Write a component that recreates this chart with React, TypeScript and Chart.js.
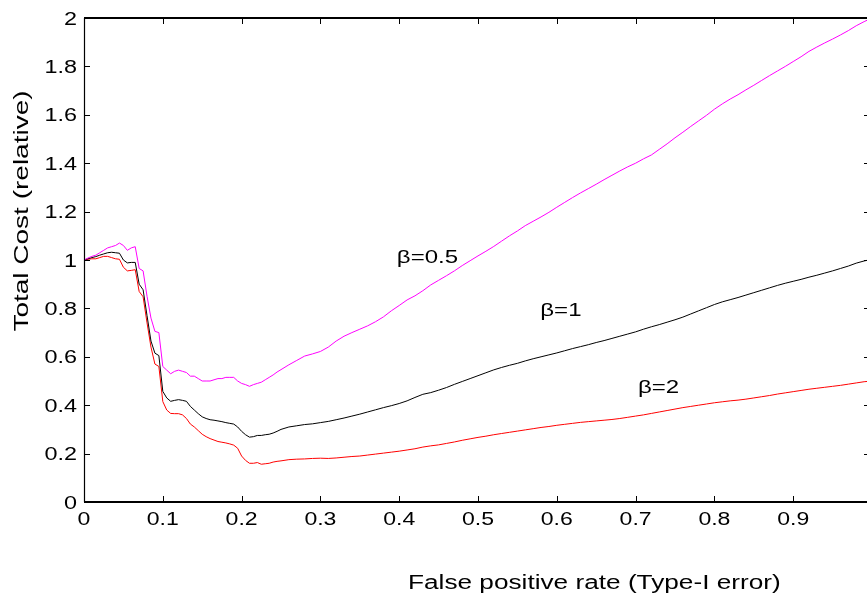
import { useEffect, useRef } from "react";
import { Chart, registerables } from "chart.js";

Chart.register(...registerables);

// False positive rate (x)
const FPR = [
  0, 0.005, 0.01, 0.015, 0.02, 0.025, 0.03, 0.035, 0.04, 0.045,
  0.05, 0.055, 0.06, 0.065, 0.07, 0.075, 0.08, 0.085, 0.09, 0.095,
  0.1, 0.105, 0.11, 0.115, 0.12, 0.125, 0.13, 0.135, 0.14, 0.145,
  0.15, 0.155, 0.16, 0.165, 0.17, 0.175, 0.18, 0.185, 0.19, 0.195,
  0.2, 0.205, 0.21, 0.215, 0.22, 0.225, 0.23, 0.235, 0.24, 0.245,
  0.25,
  0.26, 0.27, 0.28, 0.29, 0.3, 0.31, 0.32, 0.33, 0.34, 0.35,
  0.36, 0.37, 0.38, 0.39, 0.4, 0.41, 0.42, 0.43, 0.44, 0.45,
  0.46, 0.47, 0.48, 0.49, 0.5, 0.51, 0.52, 0.53, 0.54, 0.55,
  0.56, 0.57, 0.58, 0.59, 0.6, 0.61, 0.62, 0.63, 0.64, 0.65,
  0.66, 0.67, 0.68, 0.69, 0.7, 0.71, 0.72, 0.73, 0.74, 0.75,
  0.76, 0.77, 0.78, 0.79, 0.8, 0.81, 0.82, 0.83, 0.84, 0.85,
  0.86, 0.87, 0.88, 0.89, 0.9, 0.91, 0.92, 0.93, 0.94, 0.95,
  0.96, 0.97, 0.98, 0.99, 1.0,
];

// Total cost, beta = 0.5 (magenta)
const COST_BETA_05 = [
  1.0, 1.008, 1.015, 1.02, 1.03, 1.04, 1.05, 1.055, 1.06, 1.07,
  1.06, 1.04, 1.05, 1.055, 0.965, 0.955, 0.85, 0.76, 0.705, 0.7,
  0.56, 0.545, 0.53, 0.54, 0.545, 0.54, 0.535, 0.52, 0.52, 0.51,
  0.5, 0.5, 0.5, 0.505, 0.51, 0.51, 0.515, 0.515, 0.515, 0.5,
  0.49, 0.485, 0.478, 0.485, 0.49, 0.495, 0.505, 0.515, 0.525, 0.537,
  0.547,
  0.567, 0.585, 0.603, 0.612, 0.622, 0.64, 0.665, 0.685, 0.7, 0.714,
  0.728, 0.745, 0.765, 0.79, 0.812, 0.835, 0.852, 0.873, 0.897, 0.916,
  0.935, 0.955, 0.977, 0.997, 1.017, 1.036, 1.056, 1.078, 1.1, 1.12,
  1.142, 1.16, 1.178, 1.197, 1.218, 1.238, 1.258, 1.277, 1.295, 1.313,
  1.332, 1.35, 1.368, 1.385, 1.4, 1.418, 1.434, 1.457, 1.48, 1.505,
  1.528, 1.552, 1.575, 1.598, 1.623, 1.645, 1.665, 1.683, 1.703, 1.722,
  1.742, 1.762, 1.781, 1.8, 1.82, 1.84, 1.862, 1.88, 1.897, 1.913,
  1.93, 1.948, 1.968, 1.985, 2.0,
];

// Total cost, beta = 1 (black)
const COST_BETA_1 = [
  1.0, 1.005, 1.01, 1.014, 1.02, 1.025, 1.03, 1.032, 1.03, 1.028,
  1.0, 0.988, 0.99, 0.99, 0.9, 0.877, 0.77, 0.665, 0.615, 0.605,
  0.457, 0.43, 0.416, 0.42, 0.423, 0.42, 0.416, 0.395, 0.38, 0.365,
  0.352, 0.345, 0.34, 0.338, 0.335, 0.332, 0.328, 0.325, 0.322, 0.31,
  0.292, 0.278, 0.268, 0.27, 0.275, 0.275, 0.278, 0.28, 0.285, 0.292,
  0.3,
  0.31, 0.315, 0.32, 0.323, 0.328, 0.333, 0.34, 0.347, 0.355, 0.363,
  0.372, 0.381, 0.39, 0.398, 0.407, 0.418, 0.432, 0.445, 0.452, 0.462,
  0.473, 0.486, 0.498, 0.51, 0.522, 0.534, 0.546, 0.556, 0.565, 0.573,
  0.583, 0.592, 0.6, 0.608, 0.616, 0.625, 0.634, 0.642, 0.65, 0.659,
  0.667, 0.676, 0.685, 0.694, 0.703, 0.714, 0.724, 0.733, 0.743, 0.753,
  0.764, 0.777, 0.79, 0.803, 0.816, 0.827, 0.836, 0.845, 0.855, 0.865,
  0.875, 0.885, 0.895, 0.904, 0.912, 0.92, 0.929, 0.937, 0.946, 0.955,
  0.965, 0.975, 0.987, 0.996, 1.003,
];

// Total cost, beta = 2 (red)
const COST_BETA_2 = [
  1.0, 1.003, 1.005, 1.005, 1.01, 1.015, 1.015, 1.01, 1.005, 1.003,
  0.97, 0.955, 0.957, 0.96, 0.87, 0.848, 0.74, 0.64, 0.57, 0.56,
  0.415, 0.38, 0.366, 0.365, 0.365, 0.36, 0.345, 0.322, 0.31, 0.295,
  0.28, 0.27, 0.262, 0.256, 0.25, 0.247, 0.244, 0.24, 0.235, 0.222,
  0.19, 0.172, 0.16, 0.16, 0.163, 0.156, 0.158, 0.16, 0.165, 0.168,
  0.17,
  0.175, 0.177, 0.178, 0.18, 0.181, 0.18, 0.182, 0.185, 0.188, 0.19,
  0.194, 0.198, 0.202, 0.206, 0.21, 0.215, 0.22, 0.227, 0.232, 0.236,
  0.242, 0.248, 0.255, 0.261, 0.267, 0.272, 0.278, 0.283, 0.288, 0.293,
  0.298, 0.303, 0.308, 0.312, 0.317, 0.321, 0.325, 0.329, 0.332, 0.335,
  0.338, 0.341, 0.345, 0.35, 0.355, 0.36, 0.366, 0.372, 0.378, 0.384,
  0.39, 0.395, 0.4, 0.405, 0.41, 0.414, 0.418, 0.421, 0.425, 0.43,
  0.435, 0.44, 0.446, 0.451, 0.456, 0.461, 0.466, 0.47, 0.474, 0.478,
  0.482, 0.487, 0.492, 0.497, 0.5,
];

const X_TICKS = [0, 0.1, 0.2, 0.3, 0.4, 0.5, 0.6, 0.7, 0.8, 0.9, 1];
const X_TICK_LABELS = ["0", "0.1", "0.2", "0.3", "0.4", "0.5", "0.6", "0.7", "0.8", "0.9", "1"];
const Y_TICKS = [0, 0.2, 0.4, 0.6, 0.8, 1, 1.2, 1.4, 1.6, 1.8, 2];
const Y_TICK_LABELS = ["0", "0.2", "0.4", "0.6", "0.8", "1", "1.2", "1.4", "1.6", "1.8", "2"];

const SERIES_NAMES = ["β=0.5", "β=1", "β=2"];
const SERIES_COLORS = ["#ff00ff", "#000000", "#ff0000"];
// where each curve label sits, in data coordinates (left, baseline)
const LABEL_ANCHORS = [
  [0.397, 0.986],
  [0.579, 0.77],
  [0.703, 0.449],
];

const X_TITLE = "False positive rate (Type-I error)";
const Y_TITLE = "Total Cost (relative)";

const FONT_FAMILY = '"Liberation Sans", Arial, Helvetica, sans-serif';

function wideText(
  ctx: CanvasRenderingContext2D,
  text: string,
  x: number,
  y: number,
  sx: number,
  align: CanvasTextAlign,
  rotate = 0
) {
  ctx.save();
  ctx.translate(x, y);
  if (rotate) ctx.rotate(rotate);
  ctx.scale(sx, 1);
  ctx.textAlign = align;
  ctx.textBaseline = "alphabetic";
  ctx.fillText(text, 0, 0);
  ctx.restore();
}

const matlabAxes = {
  id: "matlabAxes",
  afterDraw(chart: any) {
    const ctx: CanvasRenderingContext2D = chart.ctx;
    const xs = chart.scales.x;
    const ys = chart.scales.y;
    const { left, right, top, bottom } = chart.chartArea;
    ctx.save();
    ctx.fillStyle = "#000";
    ctx.strokeStyle = "#000";

    // frame
    ctx.lineWidth = 2;
    ctx.beginPath();
    ctx.moveTo(left, bottom);
    ctx.lineTo(right, bottom);
    ctx.moveTo(left, top);
    ctx.lineTo(right, top);
    ctx.stroke();
    ctx.lineWidth = 1.2;
    ctx.beginPath();
    ctx.moveTo(left + 0.5, top);
    ctx.lineTo(left + 0.5, bottom);
    ctx.moveTo(right - 0.5, top);
    ctx.lineTo(right - 0.5, bottom);
    ctx.stroke();

    // inward ticks
    ctx.lineWidth = 1;
    ctx.beginPath();
    X_TICKS.forEach((v) => {
      const px = Math.round(xs.getPixelForValue(v)) + 0.5;
      ctx.moveTo(px, bottom);
      ctx.lineTo(px, bottom - 6);
      ctx.moveTo(px, top);
      ctx.lineTo(px, top + 6);
    });
    Y_TICKS.forEach((v) => {
      const py = Math.round(ys.getPixelForValue(v)) + 0.5;
      ctx.moveTo(left, py);
      ctx.lineTo(left + 6, py);
      ctx.moveTo(right, py);
      ctx.lineTo(right - 8, py);
    });
    ctx.stroke();

    // tick labels
    ctx.font = `18px ${FONT_FAMILY}`;
    X_TICKS.forEach((v, i) => {
      wideText(ctx, X_TICK_LABELS[i], xs.getPixelForValue(v), bottom + 23, 1.28, "center");
    });
    Y_TICKS.forEach((v, i) => {
      wideText(ctx, Y_TICK_LABELS[i], left - 7, ys.getPixelForValue(v) + 6.5, 1.3, "right");
    });

    // axis titles
    ctx.font = `20px ${FONT_FAMILY}`;
    wideText(ctx, X_TITLE, 408, 589, 1.31, "left");
    wideText(ctx, Y_TITLE, 28, 211, 1.4, "center", -Math.PI / 2);

    // curve labels
    ctx.font = `18.5px ${FONT_FAMILY}`;
    SERIES_NAMES.forEach((name, i) => {
      const [ax, ay] = LABEL_ANCHORS[i];
      wideText(ctx, name, xs.getPixelForValue(ax), ys.getPixelForValue(ay), 1.3, "left");
    });
    ctx.restore();
  },
};

export default function App() {
  const ref = useRef<HTMLCanvasElement | null>(null);

  useEffect(() => {
    const canvas = ref.current;
    if (!canvas) return;
    document.body.style.margin = "0";
    const series = [COST_BETA_05, COST_BETA_1, COST_BETA_2];
    const chart = new Chart(canvas, {
      type: "line",
      data: {
        datasets: series.map((vals, i) => ({
          label: SERIES_NAMES[i],
          data: FPR.map((x, j) => ({ x, y: vals[j] })),
          borderColor: SERIES_COLORS[i],
          backgroundColor: SERIES_COLORS[i],
          borderWidth: 1,
          pointRadius: 0,
          tension: 0,
          fill: false,
        })),
      },
      options: {
        responsive: false,
        animation: false,
        events: [],
        layout: { padding: { left: 84, top: 18, right: 18, bottom: 95 } },
        plugins: {
          legend: { display: false },
          tooltip: { enabled: false },
          title: { display: false },
        },
        scales: {
          x: { type: "linear", display: false, min: 0, max: 1 },
          y: { type: "linear", display: false, min: 0, max: 2 },
        },
      },
      plugins: [matlabAxes],
    });
    return () => chart.destroy();
  }, []);

  return (
    <div
      style={{
        position: "fixed",
        left: 0,
        top: 0,
        width: 867,
        height: 597,
        overflow: "hidden",
        background: "#fff",
      }}
    >
      <canvas ref={ref} width={890} height={597} style={{ display: "block" }} />
    </div>
  );
}
